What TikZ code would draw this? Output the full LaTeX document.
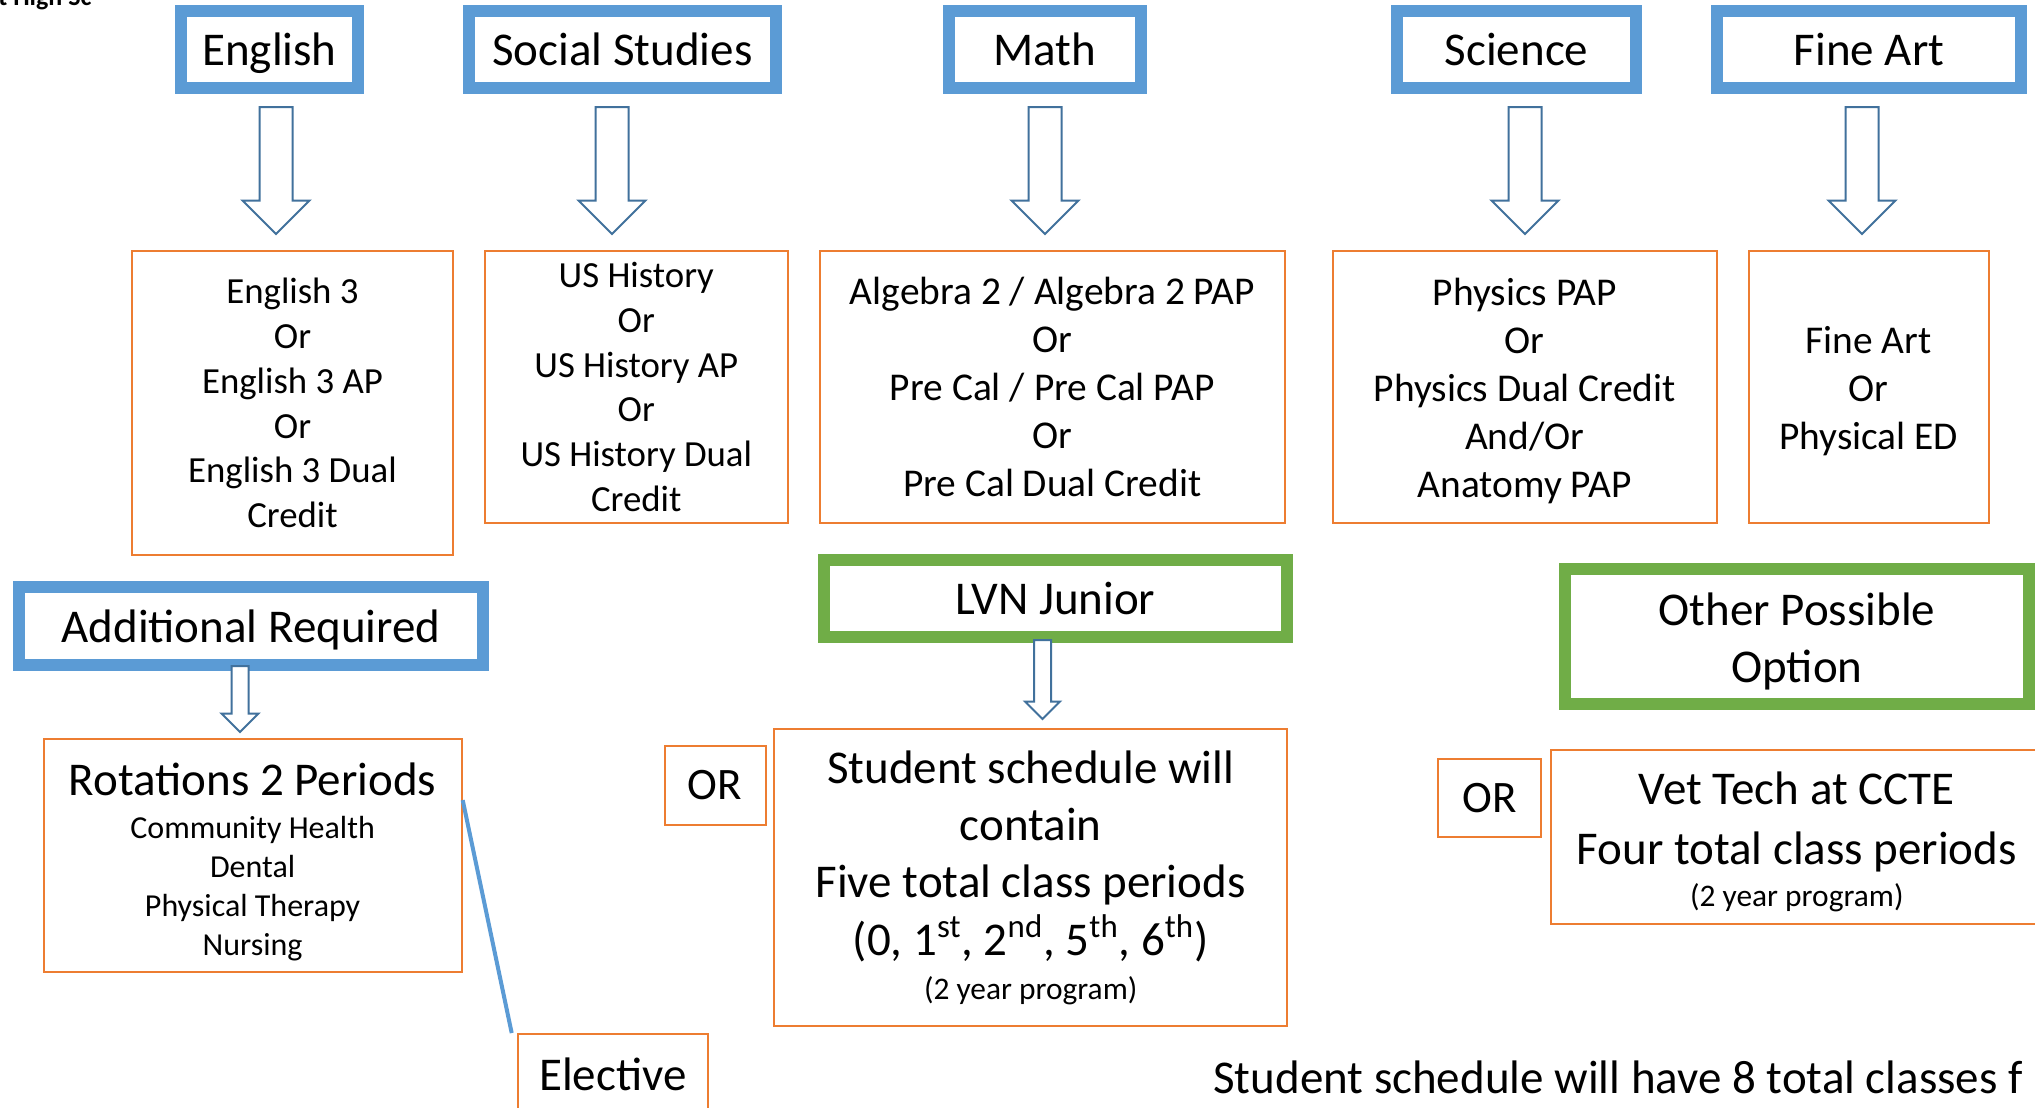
\documentclass[tikz,border=0pt]{standalone}
\usepackage{fontspec}
\setmainfont{Carlito}
\usetikzlibrary{shapes.arrows}

\begin{document}
\begin{tikzpicture}[x=0.5pt,y=0.5pt,yscale=-1,xscale=1,
  subj/.style={draw={rgb, 255:red, 91; green, 155; blue, 213 }, line width=6pt, inner sep=0, text height=18pt, text depth=2pt, font=\fontsize{23.5}{28.7}\selectfont},
  track/.style={draw={rgb, 255:red, 112; green, 173; blue, 71 }, line width=6pt, inner sep=0, align=center, font=\fontsize{23.5}{28.7}\selectfont},
  course/.style={draw={rgb, 255:red, 237; green, 125; blue, 49 }, line width=1pt, inner sep=0, align=center},
  blockdown/.style={single arrow, draw={rgb, 255:red, 65; green, 113; blue, 156 }, line width=1pt, fill=white, shape border rotate=270, inner sep=0, text width=#1, text height=#1, text depth=0pt, anchor=tail},
  link/.style={draw={rgb, 255:red, 91; green, 155; blue, 213 }, line width=2pt}
]
\fill[white] (0,0) rectangle (2035,1108);
\useasboundingbox (0,0) rectangle (2035,1108);

%Text: cut title
\node[anchor=base west, inner sep=0, font=\bfseries\fontsize{13}{15}\selectfont] (title) at (-2,5) {t High Sc};

%Shape: Rectangle [id:eng]
\node[subj, minimum width=88.5pt, minimum height=38.5pt] (eng) at (269.5,49.5) {English};
%Shape: Rectangle [id:soc]
\node[subj, minimum width=153.5pt, minimum height=38.5pt] (soc) at (622.5,49.5) {Social Studies};
%Shape: Rectangle [id:math]
\node[subj, minimum width=96pt, minimum height=38.5pt] (math) at (1044.5,49.5) {Math};
%Shape: Rectangle [id:sci]
\node[subj, minimum width=119.5pt, minimum height=38.5pt] (sci) at (1516.5,49.5) {Science};
%Shape: Rectangle [id:art]
\node[subj, minimum width=152pt, minimum height=38.5pt] (art) at (1869,49.5) {Fine Art};

%Shape: Down Arrow
\node[blockdown=15.5pt, minimum height=63.5pt, single arrow head extend=8.5pt] (aeng) at (276,106) {};
\node[blockdown=15.5pt, minimum height=63.5pt, single arrow head extend=8.5pt] (asoc) at (612,106) {};
\node[blockdown=15.5pt, minimum height=63.5pt, single arrow head extend=8.5pt] (amath) at (1045,106) {};
\node[blockdown=15.5pt, minimum height=63.5pt, single arrow head extend=8.5pt] (asci) at (1525,106) {};
\node[blockdown=15.5pt, minimum height=63.5pt, single arrow head extend=8.5pt] (aart) at (1862,106) {};

%Shape: Rectangle [id:engl]
\node[course, minimum width=160.5pt, minimum height=152pt, font=\fontsize{18.4}{22.4}\selectfont] (engl) at (292.5,403) {English 3\\Or\\English 3 AP\\Or\\English 3 Dual\\Credit};
%Shape: Rectangle [id:socl]
\node[course, minimum width=151.75pt, minimum height=136pt, font=\fontsize{18.4}{22.4}\selectfont] (socl) at (636.3,387) {US History\\Or\\US History AP\\Or\\US History Dual\\Credit};
%Shape: Rectangle [id:mathl]
\node[course, minimum width=232.25pt, minimum height=136pt, font=\fontsize{19.7}{24}\selectfont] (mathl) at (1052.25,387) {Algebra 2 / Algebra 2 PAP\\Or\\Pre Cal / Pre Cal PAP\\Or\\Pre Cal Dual Credit};
%Shape: Rectangle [id:scil]
\node[course, minimum width=192pt, minimum height=136pt, font=\fontsize{19.7}{24}\selectfont] (scil) at (1524.75,387) {\rule{0pt}{17.5pt}Physics PAP\\Or\\Physics Dual Credit\\And/Or\\Anatomy PAP};
%Shape: Rectangle [id:artl]
\node[course, minimum width=120.15pt, minimum height=136pt, font=\fontsize{19.7}{24}\selectfont] (artl) at (1868.65,387) {\rule{0pt}{17.5pt}Fine Art\\Or\\Physical ED};

%Shape: Rectangle [id:addl]
\node[subj, minimum width=232pt, minimum height=39pt] (addl) at (251,626) {Additional Required};
\node[blockdown=7.5pt, minimum height=33pt, single arrow head extend=5pt] (aaddl) at (240,665) {};
%Shape: Rectangle [id:rot]
\node[course, minimum width=209.1pt, minimum height=116.4pt, font=\fontsize{16}{19.5}\selectfont] (rot) at (252.6,855.1) {{\fontsize{23.5}{28.7}\selectfont\rule{0pt}{23.6pt}Rotations 2 Periods}\\[2pt]Community Health\\Dental\\Physical Therapy\\Nursing};
%Shape: Rectangle [id:elec]
\node[course, minimum width=95.15pt, minimum height=40pt, font=\fontsize{23.5}{28.7}\selectfont] (elec) at (612.85,1074) {Elective};
%Straight Lines
\draw[link] ([yshift=-27.5pt]rot.east) -- ([xshift=-2.5pt]elec.north west);

%Shape: Rectangle [id:or1]
\node[course, minimum width=50.6pt, minimum height=39.35pt, font=\fontsize{22.5}{27}\selectfont] (or1) at (715.1,785.4) {OR};
%Shape: Rectangle [id:lvn]
\node[track, minimum width=231.75pt, minimum height=38.65pt, text height=18pt, text depth=2pt] (lvn) at (1055.25,598.65) {LVN Junior};
\node[blockdown=7.5pt, minimum height=39.5pt, single arrow head extend=4.5pt] (alvn) at (1042.5,639) {};
%Shape: Rectangle [id:sched]
\node[course, minimum width=256.65pt, minimum height=148.5pt, font=\fontsize{23.5}{28.7}\selectfont] (sched) at (1030.65,877.5) {Student schedule will\\contain\\Five total class periods\\(0, 1\textsuperscript{st}, 2\textsuperscript{nd}, 5\textsuperscript{th}, 6\textsuperscript{th})\\[-6.7pt]{\fontsize{15.7}{19}\selectfont (2 year program)}};

%Shape: Rectangle [id:other]
\node[track, minimum width=232pt, minimum height=67.25pt] (other) at (1797,636.25) {\rule{0pt}{21.6pt}Other Possible\\Option};
%Shape: Rectangle [id:or2]
\node[course, minimum width=51.3pt, minimum height=38.7pt, font=\fontsize{22.5}{27}\selectfont] (or2) at (1489.7,798) {OR};
%Shape: Rectangle [id:vet]
\node[course, minimum width=246.2pt, minimum height=87pt, font=\fontsize{23.5}{28.7}\selectfont] (vet) at (1796.8,837) {\rule{0pt}{21.6pt}Vet Tech at CCTE\\[1.3pt]Four total class periods\\[-7.7pt]{\fontsize{15.7}{19}\selectfont (2 year program)}};

%Text
\node[anchor=base west, inner sep=0, font=\fontsize{23.5}{28.7}\selectfont] (total) at (1213,1093) {Student schedule will have 8 total classes f};
\end{tikzpicture}
\end{document}
